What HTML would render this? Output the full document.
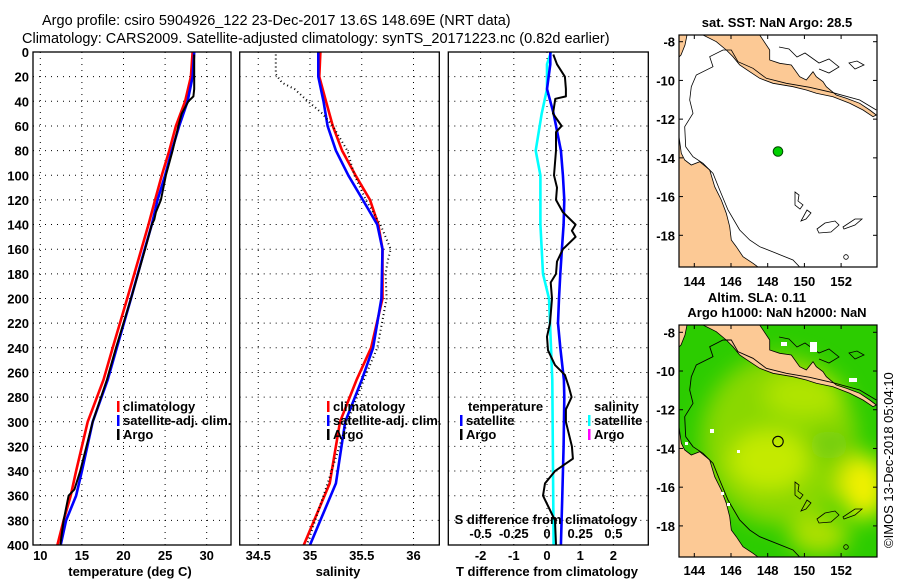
<!DOCTYPE html>
<html><head><meta charset="utf-8"><style>
html,body{margin:0;padding:0;background:#fff;}
svg{display:block;font-family:"Liberation Sans",sans-serif;}
.t{font-size:13px;font-weight:bold;fill:#000;}
</style></head><body>
<svg id="fig" width="900" height="580" viewBox="0 0 900 580" xmlns="http://www.w3.org/2000/svg">
<defs>
<filter id="blur" x="-50%" y="-50%" width="200%" height="200%"><feGaussianBlur stdDeviation="11"/></filter>
<clipPath id="mclip"><rect x="0" y="0" width="198" height="232"/></clipPath>
</defs>
<text x="42" y="25" font-size="14.5">Argo profile: csiro 5904926_122 23-Dec-2017 13.6S 148.69E (NRT data)</text>
<text x="22" y="43" font-size="14.5">Climatology: CARS2009. Satellite-adjusted climatology: synTS_20171223.nc (0.82d earlier)</text>
<g id="panels"></g>

<!-- Map 1 -->
<g transform="translate(679,35)">
  <rect width="198" height="232" fill="#fff"/>
  <g clip-path="url(#mclip)">
    <path fill="#fcc995" stroke="#000" stroke-width="0.8" d="M24,0 L80.7,0 L90.7,15 L90.7,25 L100.7,28.3 L112.3,30 L120.7,41.7 L127.3,45 L134,36.7 L137.3,41.7 L144,46.7 L147.3,51.7 L157.3,60 L167.3,63.3 L180.7,68.3 L190.7,75 L197.3,80 L194,81.7 L184,75 L170.7,68.3 L154,61.7 L137.3,58.3 L127.3,55 L114,51.7 L94,48.3 L80.7,43.3 L70.7,36.7 L60.7,30 L54,21.7 L47.3,15 L37.3,6.7 Z M0,0 L8,0 L6,10 L2,20 L0,22 Z"/>
    <path fill="#fcc995" stroke="#000" stroke-width="0.8" d="M0,101.7 L2.3,118.3 L5.7,125 L12.3,130 L20.7,126.7 L30.7,135 L35.7,151.7 L42.3,165 L47.3,178.3 L50.7,191.7 L52.3,205 L57.3,211.7 L64,221.7 L74,228.3 L79,232 L0,232 Z"/>
    <path fill="none" stroke="#000" stroke-width="0.8" d="M197.3,75 L180.7,65 L154,57.7 L130.7,52.3 L107.3,48.3 L87.3,43.3 L74,33.3 L59,26.7 L52.3,15 L44,15 L30.7,21.7 L34,31.7 L17.3,40 L12.3,51.7 L10.7,65 L14,78.3 L5.7,91.7 L6.7,111.7 L14,121.7 L24,128.3 L34,138.3 L40.7,155 L49,175 L60.7,195 L70.7,205 L80.7,211.7 L97.3,218.3 L114,225 L120.7,232"/>
    <path fill="none" stroke="#000" stroke-width="0.8" d="M100,12 L110,14 L118,22 L126,18 L140,28 L150,24 L160,32 L150,38 L140,34 M170,28 L178,26 L185,30 L176,34 Z M116,157 L120,160 L119,166 L124,170 L121,174 L116,170 Z M128,175 L132,178 L127,184 L122,186 Z M138,194 L146,188 L156,186 L160,190 L152,197 L140,198 Z M164,192 L176,184 L183,184 L176,190 L165,194 Z"/>
    <circle cx="167" cy="222" r="2.3" fill="none" stroke="#000" stroke-width="0.8"/>
    <circle cx="99" cy="116.5" r="4.8" fill="#00d000" stroke="#004400" stroke-width="1"/>
  </g>
  <rect width="198" height="232" fill="none" stroke="#000" stroke-width="1.2"/>
</g>
<text class="t" x="777" y="27" text-anchor="middle">sat. SST: NaN Argo: 28.5</text>

<!-- Map 2 -->
<g transform="translate(679,325)">
  <g clip-path="url(#mclip)">
    <rect width="198" height="232" fill="#2ccc00"/>
    <g filter="url(#blur)">
      <ellipse cx="100" cy="115" rx="78" ry="85" fill="#8ad800"/>
      <ellipse cx="90" cy="135" rx="40" ry="30" fill="#c4ea00"/>
      <ellipse cx="125" cy="70" rx="40" ry="22" fill="#b0e400"/>
      <ellipse cx="185" cy="162" rx="24" ry="32" fill="#f0f000"/>
      <ellipse cx="140" cy="210" rx="30" ry="20" fill="#aee000"/>
      <ellipse cx="150" cy="120" rx="20" ry="14" fill="#70cc10"/>
    </g>
    <path fill="#fcc995" stroke="#000" stroke-width="0.8" d="M24,0 L80.7,0 L90.7,15 L90.7,25 L100.7,28.3 L112.3,30 L120.7,41.7 L127.3,45 L134,36.7 L137.3,41.7 L144,46.7 L147.3,51.7 L157.3,60 L167.3,63.3 L180.7,68.3 L190.7,75 L197.3,80 L194,81.7 L184,75 L170.7,68.3 L154,61.7 L137.3,58.3 L127.3,55 L114,51.7 L94,48.3 L80.7,43.3 L70.7,36.7 L60.7,30 L54,21.7 L47.3,15 L37.3,6.7 Z M0,0 L8,0 L6,10 L2,20 L0,22 Z"/>
    <path fill="#fcc995" stroke="#000" stroke-width="0.8" d="M0,101.7 L2.3,118.3 L5.7,125 L12.3,130 L20.7,126.7 L30.7,135 L35.7,151.7 L42.3,165 L47.3,178.3 L50.7,191.7 L52.3,205 L57.3,211.7 L64,221.7 L74,228.3 L79,232 L0,232 Z"/>
    <path fill="none" stroke="#000" stroke-width="0.9" d="M197.3,75 L180.7,65 L154,57.7 L130.7,52.3 L107.3,48.3 L87.3,43.3 L74,33.3 L59,26.7 L52.3,15 L44,15 L30.7,21.7 L34,31.7 L17.3,40 L12.3,51.7 L10.7,65 L14,78.3 L5.7,91.7 L6.7,111.7 L14,121.7 L24,128.3 L34,138.3 L40.7,155 L49,175 L60.7,195 L70.7,205 L80.7,211.7 L97.3,218.3 L114,225 L120.7,232"/>
    <path fill="none" stroke="#000" stroke-width="0.8" d="M100,12 L110,14 L118,22 L126,18 L140,28 L150,24 L160,32 L150,38 L140,34 M170,28 L178,26 L185,30 L176,34 Z M116,157 L120,160 L119,166 L124,170 L121,174 L116,170 Z M128,175 L132,178 L127,184 L122,186 Z M138,194 L146,188 L156,186 L160,190 L152,197 L140,198 Z M164,192 L176,184 L183,184 L176,190 L165,194 Z"/>
    <circle cx="167" cy="222" r="2.3" fill="none" stroke="#000" stroke-width="0.8"/>
    <g fill="#fff"><rect x="102" y="17" width="6" height="4"/><rect x="131" y="17" width="7" height="10"/><rect x="31" y="104" width="4" height="4"/><rect x="6" y="117" width="3" height="3"/><rect x="42" y="167" width="3" height="3"/><rect x="48" y="178" width="3" height="3"/><rect x="58" y="125" width="3" height="3"/><rect x="170" y="53" width="8" height="4"/></g>
    <circle cx="99" cy="116.5" r="5.2" fill="none" stroke="#000" stroke-width="1.1"/>
  </g>
  <rect width="198" height="232" fill="none" stroke="#000" stroke-width="1.2"/>
</g>
<text class="t" x="757" y="302" text-anchor="middle">Altim. SLA: 0.11</text>
<text class="t" x="777" y="317" text-anchor="middle">Argo h1000: NaN h2000: NaN</text>
<text transform="translate(893,548) rotate(-90)" font-size="13">©IMOS 13-Dec-2018 05:04:10</text>
<g id="maplabels"></g>
</svg>
<script>
// ---- chart data ----
const depthTicks = [0,20,40,60,80,100,120,140,160,180,200,220,240,260,280,300,320,340,360,380,400];
const tempTicks = [10,15,20,25,30];
const salTicks = [34.5,35,35.5,36];
const tdiffTicks = [-2,-1,0,1,2];
const sdiffTicks = [-0.5,-0.25,0,0.25,0.5];
const sdiffTickLabels = ["-0.5","-0.25","0","0.25","0.5"];

const tempDepth = [0,20,40,60,80,100,120,140,160,200,240,266,300,340,360,380,400];
const tempClim = [28.3,28.1,27.4,26.3,25.5,24.6,23.8,23.0,22.15,20.45,18.7,17.6,15.7,14.3,13.65,12.8,12.05];
const tempSat = [28.5,28.3,27.7,26.7,25.8,25.0,24.1,23.4,22.55,20.9,19.2,18.1,16.3,15.0,14.3,13.1,12.45];
const argoTDepth = [2,10,20,30,36,40,50,60,80,100,120,130,136,140,160,200,240,266,300,340,355,360,380,400];
const argoT = [28.5,28.5,28.5,28.5,28.4,27.8,27.0,26.6,25.9,25.1,24.5,23.9,23.7,23.4,22.6,20.9,19.1,18.0,16.3,14.8,14.1,13.4,12.8,12.4];

const salDepth = [0,20,40,60,80,100,120,140,160,200,240,266,300,350,400];
const salClim = [35.10,35.09,35.155,35.22,35.31,35.44,35.58,35.66,35.70,35.70,35.59,35.45,35.29,35.19,34.94];
const salSat = [35.08,35.08,35.13,35.17,35.25,35.37,35.51,35.65,35.70,35.69,35.61,35.50,35.34,35.25,35.0];
const argoSDepth = [2,18,25,30,40,50,60,80,100,120,140,160,170,180,200,240,266,300,350,400];
const argoS = [34.67,34.67,34.73,34.85,34.98,35.12,35.22,35.36,35.43,35.54,35.68,35.78,35.75,35.73,35.74,35.65,35.52,35.36,35.17,34.97];

const tdDepth = [0,10,30,50,80,100,120,140,160,180,200,220,240,266,280,320,360,400];
const satTdiff = [0.1,0.1,0.0,0.2,0.42,0.48,0.52,0.5,0.45,0.4,0.36,0.33,0.4,0.51,0.52,0.5,0.46,0.42];
const argoTdDepth = [2,10,20,30,36,38,50,60,65,80,100,110,120,130,140,145,150,160,170,180,187,200,220,231,242,254,262,272,280,290,300,320,330,340,350,360,370,380,400];
const argoTdiff = [0.19,0.3,0.54,0.57,0.57,0.25,0.18,0.44,0.27,0.27,0.21,0.3,0.27,0.48,0.86,0.75,0.86,0.48,0.3,0.27,0.11,0.15,0.09,0.0,0.03,0.24,0.54,0.66,0.74,0.57,0.57,0.75,0.78,0.24,-0.06,-0.12,0.06,0.24,0.27];
const sdDepth = [0,10,30,50,80,100,140,180,200,266,400];
const satSdiff = [0.03,0.0,0.0,-0.04,-0.085,-0.05,-0.05,-0.03,0.015,0.04,0.05];

const lonTicks = [144,146,148,150,152];
const latTicks = [-8,-10,-12,-14,-16,-18];

// ---- scales ----
const PT = 52, PB = 545;
const yD = d => PT + d * (PB - PT) / 400;
const xT = t => 40.3 + (t - 10) * 8.32;
const xS = s => 310 + (s - 35) * 103.5;
const xTd = t => 547 + t * 33.2;
const xSd = s => 547 + s * 132.8;
const NS = "http://www.w3.org/2000/svg";
const root = document.getElementById('panels');

function mk(tag, attrs, parent) {
  const e = document.createElementNS(NS, tag);
  for (const k in attrs) e.setAttribute(k, attrs[k]);
  (parent || root).appendChild(e);
  return e;
}
function txt(x, y, s, anchor, parent, size) {
  const e = mk('text', {x: x, y: y, class: 't', 'text-anchor': anchor || 'start'}, parent);
  if (size) e.setAttribute('font-size', size);
  e.textContent = s;
  return e;
}
function line(xs, ds, xf, color, w, dash, name) {
  const pts = xs.map((v, i) => xf(v).toFixed(1) + ',' + yD(ds[i]).toFixed(1)).join(' ');
  const p = mk('polyline', {points: pts, fill: 'none', stroke: color, 'stroke-width': w, 'stroke-linejoin': 'round'});
  if (dash) p.setAttribute('stroke-dasharray', dash);
  
  
}
function panel(x0, x1, ticks, xf, name) {
  const g = mk('g', {});
  
  
  depthTicks.forEach(d => {
    if (d > 0 && d < 400) {
      const l = mk('line', {x1: x0, x2: x1, y1: yD(d), y2: yD(d), stroke: '#000', 'stroke-width': 1, 'stroke-dasharray': '1 5'}, g);
      
      
    }
  });
  ticks.forEach(t => {
    const l = mk('line', {x1: xf(t), x2: xf(t), y1: PT, y2: PB, stroke: '#000', 'stroke-width': 1, 'stroke-dasharray': '1 5'}, g);
    
    
  });
  return g;
}
function frame(x0, x1, name) {
  const r = mk('rect', {x: x0, y: PT, width: x1 - x0, height: PB - PT, fill: 'none', stroke: '#000', 'stroke-width': 1.3});
  
  
}
function legend(x, y, color, label) {
  const r = mk('rect', {x: x, y: y - 10, width: 2.5, height: 11, fill: color});
  
  
  const t = txt(x + 6, y, label);
  
  
}

// Panel 1: temperature
panel(33, 231, tempTicks, xT, 'temperature-panel');
line(tempClim, tempDepth, xT, '#ff0000', 2.6, null, 'temp-climatology-line');
line(tempSat, tempDepth, xT, '#0000ff', 2.6, null, 'temp-satellite-line');
line(argoT, argoTDepth, xT, '#000000', 2, null, 'temp-argo-line');
frame(33, 231, 'temperature-frame');
depthTicks.forEach(d => {
  const t = txt(29, yD(d) + 5, String(d), 'end');
  
  
});
tempTicks.forEach(v => {
  const t = txt(xT(v), 560, String(v), 'middle');
  
  
});
let xl = txt(130, 576, 'temperature (deg C)', 'middle');


legend(117, 411, '#ff0000', 'climatology');
legend(117, 425, '#0000ff', 'satellite-adj. clim.');
legend(117, 439, '#000000', 'Argo');

// Panel 2: salinity
panel(239.7, 439.3, salTicks, xS, 'salinity-panel');
line(salClim, salDepth, xS, '#ff0000', 2.6, null, 'sal-climatology-line');
line(salSat, salDepth, xS, '#0000ff', 2.6, null, 'sal-satellite-line');
line(argoS, argoSDepth, xS, '#000000', 2, '1 3', 'sal-argo-line');
frame(239.7, 439.3, 'salinity-frame');
salTicks.forEach(v => {
  const t = txt(xS(v), 560, String(v), 'middle');
  
  
});
xl = txt(338, 576, 'salinity', 'middle');


legend(327, 411, '#ff0000', 'climatology');
legend(327, 425, '#0000ff', 'satellite-adj. clim.');
legend(327, 439, '#000000', 'Argo');

// Panel 3: differences
panel(448.3, 648.3, tdiffTicks, xTd, 'difference-panel');
line(satSdiff, sdDepth, xSd, '#00ffff', 2.6, null, 'sdiff-satellite-line');
line(satTdiff, tdDepth, xTd, '#0000ff', 2.6, null, 'tdiff-satellite-line');
line(argoTdiff, argoTdDepth, xTd, '#000000', 2, null, 'tdiff-argo-line');
frame(448.3, 648.3, 'difference-frame');
tdiffTicks.forEach(v => {
  const t = txt(xTd(v), 560, String(v), 'middle');
  
  
});
sdiffTicks.forEach((v, i) => {
  const t = txt(xSd(v), 538, sdiffTickLabels[i], 'middle');
  
  
});
xl = txt(546, 524, 'S difference from climatology', 'middle');


xl = txt(547, 576, 'T difference from climatology', 'middle');


xl = txt(468, 411, 'temperature');


legend(460, 425, '#0000ff', 'satellite');
legend(460, 439, '#000000', 'Argo');
xl = txt(594, 411, 'salinity');


legend(588, 425, '#00ffff', 'satellite');
legend(588, 439, '#ff00ff', 'Argo');

// Map labels
const ml = document.getElementById('maplabels');
const lonX = lon => 694.3 + (lon - 144) * 18.35;
[[35, 41.7, 286], [325, 332.3, 575]].forEach(([top, lat8, labY]) => {
  const latY = lat => lat8 + (-8 - lat) * 19.36;
  lonTicks.forEach(lon => {
    const t = txt(lonX(lon), labY, String(lon), 'middle', ml);
    
    
    mk('line', {x1: lonX(lon), x2: lonX(lon), y1: top, y2: top + 4, stroke: '#000'}, ml);
    mk('line', {x1: lonX(lon), x2: lonX(lon), y1: top + 232, y2: top + 228, stroke: '#000'}, ml);
  });
  latTicks.forEach(lat => {
    const t = txt(675, latY(lat) + 5, String(lat), 'end', ml);
    
    
    mk('line', {x1: 877, x2: 873, y1: latY(lat), y2: latY(lat), stroke: '#000'}, ml);
    mk('line', {x1: 679, x2: 683, y1: latY(lat), y2: latY(lat), stroke: '#000'}, ml);
  });
});
</script>
</body></html>
